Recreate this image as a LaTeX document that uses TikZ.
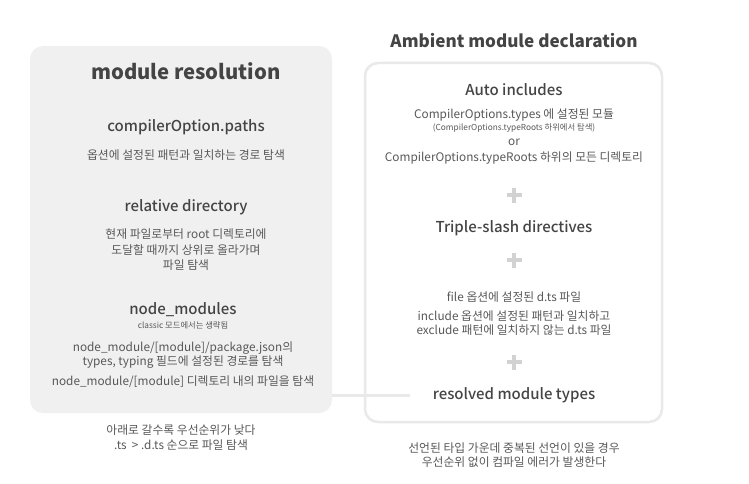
\documentclass[tikz,border=0pt]{standalone}
\usepackage{fontspec}
\setmainfont{Noto Sans CJK KR}
\newfontfamily\krmed{Noto Sans CJK KR Medium}
\definecolor{boxgrey}{HTML}{F0F0F0}
\definecolor{bordergrey}{HTML}{E9E9E9}
\definecolor{headc}{HTML}{444444}
\definecolor{bodyc}{HTML}{585858}
\definecolor{plusc}{HTML}{D2D2D2}
\begin{document}
\begin{tikzpicture}[x=1pt,y=-1pt,
  bigtitle/.style={font=\fontsize{20.3}{24}\selectfont\bfseries, text=headc, inner sep=0pt},
  sectitle/.style={font=\krmed\fontsize{15}{17}\selectfont, text=headc, inner sep=0pt},
  bodytxt/.style={font=\fontsize{11.8}{14.5}\selectfont, text=bodyc, inner sep=0pt, align=center},
  smalltxt/.style={font=\fontsize{8.3}{9}\selectfont, text=bodyc, inner sep=0pt},
  plussign/.style={plusc, line width=3.5pt},
  link/.style={bordergrey, line width=3pt}
]
\useasboundingbox (0,0) rectangle (749,484);
\fill[white] (0,0) rectangle (749,484);
% left box
\fill[boxgrey, rounded corners=13pt] (30,46) rectangle (332,413);
\coordinate (lboxeast) at (332,395);
% right box
\draw[bordergrey, line width=2.5pt, rounded corners=13pt] (365,63) rectangle (662,422);
% left contents
\node[bigtitle] (lt) at (186,71) {module resolution};
\node[sectitle] (cop) at (186,127) {compilerOption.paths};
\node[bodytxt] (copd) at (186,155) {옵션에 설정된 패턴과 일치하는 경로 탐색};
\node[sectitle] (rel) at (186,207) {relative directory};
\node[bodytxt, font=\fontsize{11.8}{15.5}\selectfont] (reld) at (186,250) {현재 파일로부터 root 디렉토리에\\도달할 때까지 상위로 올라가며\\파일 탐색};
\node[sectitle] (nm) at (183,310) {node\_modules};
\node[smalltxt] (nms) at (183,325) {classic 모드에서는 생략됨};
\node[bodytxt] (nmd1) at (183,355) {node\_module/[module]/package.json의\\types, typing 필드에 설정된 경로를 탐색};
\node[bodytxt] (nmd2) at (183,382) {node\_module/[module] 디렉토리 내의 파일을 탐색};
\node[bodytxt] (lnote) at (181,437.5) {아래로 갈수록 우선순위가 낮다\\.ts~~>~.d.ts 순으로 파일 탐색};
% right contents
\node[bigtitle, font=\fontsize{17.1}{20}\selectfont\bfseries] (rt) at (514,41) {Ambient module declaration};
\node[sectitle] (auto) at (514,90) {Auto includes};
\node[bodytxt] (a1) at (514,115) {CompilerOptions.types 에 설정된 모듈};
\node[smalltxt] (a2) at (514,128) {(CompilerOptions.typeRoots 하위에서 탐색)};
\node[bodytxt] (a3) at (514,142) {or};
\node[bodytxt] (a4) at (514,158) {CompilerOptions.typeRoots 하위의 모든 디렉토리};
\node[inner sep=0pt] (p1) at (514,195) {};
\node[sectitle] (tsd) at (514,228) {Triple-slash directives};
\node[inner sep=0pt] (p2) at (514,260) {};
\node[bodytxt] (f1) at (514,297) {file 옵션에 설정된 d.ts 파일};
\node[bodytxt] (f2) at (514,323) {include 옵션에 설정된 패턴과 일치하고\\exclude 패턴에 일치하지 않는 d.ts 파일};
\node[inner sep=0pt] (p3) at (514,362) {};
\node[sectitle] (res) at (514,395) {resolved module types};
\node[bodytxt] (rnote) at (514,455) {선언된 타입 가운데 중복된 선언이 있을 경우\\우선순위 없이 컴파일 에러가 발생한다};
% plus signs
\foreach \p in {p1,p2,p3}{
  \draw[plussign] ([xshift=-7.5pt]\p.center) -- ([xshift=7.5pt]\p.center);
  \draw[plussign] ([yshift=-7.5pt]\p.center) -- ([yshift=7.5pt]\p.center);
}
% connector
\coordinate (linkend) at (410,395);
\draw[link] (lboxeast) -- (linkend);
\end{tikzpicture}
\end{document}
